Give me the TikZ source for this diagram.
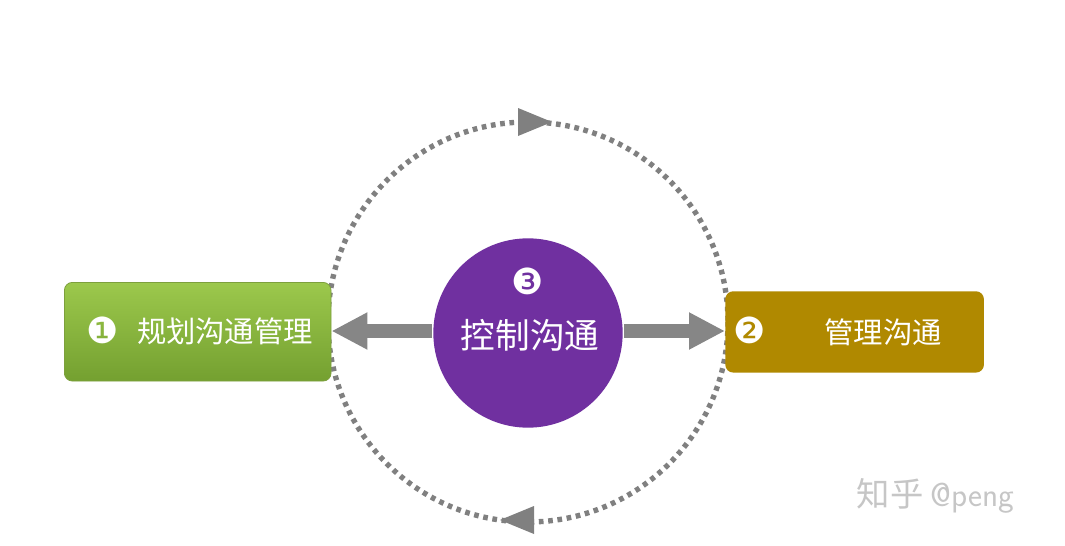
\documentclass[tikz,border=0pt]{standalone}
\usepackage{fontspec}
\setmainfont{Noto Sans CJK SC}
\newfontfamily\djfont{DejaVu Sans}
\usetikzlibrary{arrows.meta}
\definecolor{purp}{HTML}{7030A0}
\definecolor{gold}{HTML}{B08900}
\definecolor{gtop}{HTML}{9CC84C}
\definecolor{gbot}{HTML}{74A030}
\begin{document}
\begin{tikzpicture}[x=0.75pt,y=-0.75pt,
  bigarrow/.style={draw=gray!95,line width=10.5pt,-{Triangle[length=27pt,width=26pt]},shorten >=0pt}]
\useasboundingbox (0,0) rectangle (1065,546);
\fill[white] (0,0) rectangle (1065,546);
% dotted ring
\draw[gray,line width=4pt,dash pattern=on 3.5pt off 3.5pt] (528,322) circle (200);
\fill[gray] (552,122) -- (518,108) -- (518,136) -- cycle;
\fill[gray] (500,520) -- (534,506) -- (534,534) -- cycle;
% boxes
\node[draw=gtop!80!black,line width=0.6pt,rounded corners=6pt,top color=gtop,bottom color=gbot,minimum width=200pt,minimum height=74pt,anchor=north west] (plan) at (64,282) {};
\node[fill=gold,rounded corners=6pt,minimum width=194pt,minimum height=61pt,anchor=north west] (mgmt) at (725,291) {};
\node[circle,fill=purp,minimum size=142pt,inner sep=0pt] (ctrl) at (528,333) {};
% texts
\node[text=white,font=\fontsize{22}{22}\selectfont] at (225,331) {规划沟通管理};
\node[text=white,font=\djfont\fontsize{27}{27}\selectfont] at (103,330) {❶};
\node[text=white,font=\fontsize{22}{22}\selectfont] at (883,332) {管理沟通};
\node[text=white,font=\djfont\fontsize{27}{27}\selectfont] at (750,330) {❷};
\node[text=white,font=\fontsize{26}{26}\selectfont] at (530,335) {控制沟通};
\node[text=white,font=\djfont\fontsize{27}{27}\selectfont] at (528,281) {❸};
% arrows
\draw[bigarrow] (ctrl.west) ++(-1,-2) coordinate (cl) -- (plan.east |- cl);
\draw[bigarrow] (ctrl.east) ++(1,-2) coordinate (cr) -- (mgmt.west |- cr);
% watermark
\node[text=gray!45,font=\fontsize{25}{25}\selectfont,anchor=west] (wm) at (852,496) {知乎 \textsf{@peng}};
\end{tikzpicture}
\end{document}
